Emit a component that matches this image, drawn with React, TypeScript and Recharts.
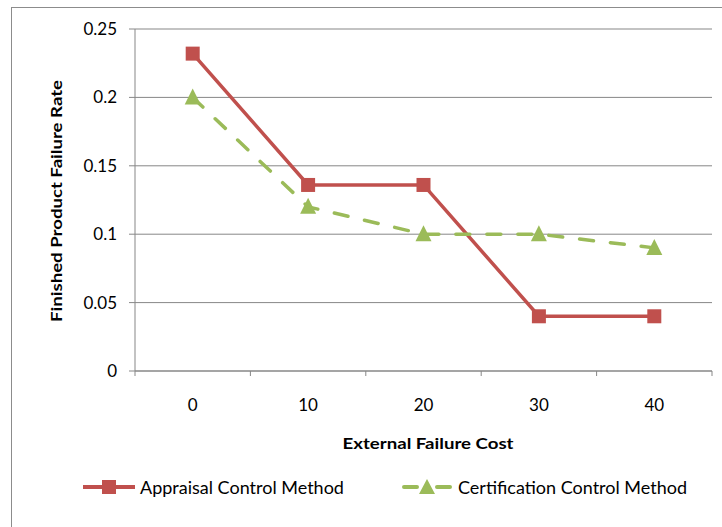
import React from 'react';
import { LineChart, Line, XAxis, YAxis, CartesianGrid } from 'recharts';

const costs = ['0', '10', '20', '30', '40'];
const appraisal = [0.232, 0.136, 0.136, 0.04, 0.04];
const certification = [0.2, 0.12, 0.1, 0.1, 0.09];
const yTicks = [0, 0.05, 0.1, 0.15, 0.2, 0.25];

const chartData = costs.map((c, i) => ({
  cost: c,
  appraisal: appraisal[i],
  certification: certification[i],
}));

const RED = '#C0504D';
const GREEN = '#9BBB59';
const GRID = '#878787';
const FONT = 'Lato, "Liberation Sans", sans-serif';

const PLOT_LEFT = 135;
const PLOT_RIGHT = 712;
const PLOT_BOTTOM = 371;
const BAND = (PLOT_RIGHT - PLOT_LEFT) / costs.length;

const SquareDot = (props: any) => {
  const { cx, cy, index } = props;
  if (cx == null || cy == null) return <g key={`s-${index}`} />;
  return <rect key={`s-${index}`} x={cx - 7} y={cy - 7} width={14} height={14} fill={RED} />;
};

const TriangleDot = (props: any) => {
  const { cx, cy, index } = props;
  if (cx == null || cy == null) return <g key={`t-${index}`} />;
  return (
    <polygon
      key={`t-${index}`}
      points={`${cx},${cy - 9} ${cx + 8},${cy + 7} ${cx - 8},${cy + 7}`}
      fill={GREEN}
    />
  );
};

const CategoryTick = (props: any) => {
  const { x, payload, index } = props;
  const left = x - BAND / 2;
  return (
    <g>
      <line x1={left} y1={PLOT_BOTTOM} x2={left} y2={PLOT_BOTTOM + 5} stroke={GRID} />
      {index === costs.length - 1 && (
        <line x1={left + BAND} y1={PLOT_BOTTOM} x2={left + BAND} y2={PLOT_BOTTOM + 5} stroke={GRID} />
      )}
      <text x={x} y={411} textAnchor="middle" fontSize={17} fontFamily={FONT} fill="#000">
        {payload.value}
      </text>
    </g>
  );
};

const LegendKey = ({ color, dashed, marker }: { color: string; dashed?: boolean; marker: 'square' | 'triangle' }) => (
  <svg width={56} height={16} style={{ display: 'block' }}>
    <line
      x1={dashed ? 5 : 2}
      y1={8}
      x2={dashed ? 51 : 54}
      y2={8}
      stroke={color}
      strokeWidth={4}
      strokeLinecap={dashed ? 'round' : 'butt'}
      strokeDasharray={dashed ? '13 20' : undefined}
    />
    {marker === 'square' ? (
      <rect x={21} y={1} width={14} height={14} fill={color} />
    ) : (
      <polygon points="28,0 36,15 20,15" fill={color} />
    )}
  </svg>
);

export default function App() {
  return (
    <div style={{ position: 'absolute', left: 0, top: 0, width: 722, height: 527, overflow: 'hidden', background: '#fff' }}>
      <div
        style={{
          position: 'absolute',
          left: 11,
          top: 7,
          width: 730,
          height: 540,
          border: '1px solid #8c8c8c',
          boxSizing: 'border-box',
        }}
      />
      <div style={{ position: 'absolute', left: 0, top: 0 }}>
        <LineChart width={722} height={527} data={chartData} margin={{ top: 29, right: 10, bottom: 96, left: 0 }}>
          <CartesianGrid horizontal vertical={false} stroke={GRID} strokeWidth={1} />
          <XAxis
            dataKey="cost"
            height={60}
            padding={{ left: BAND / 2, right: BAND / 2 }}
            axisLine={{ stroke: GRID }}
            tickLine={false}
            tick={<CategoryTick />}
            interval={0}
            label={{
              content: () => (
                <text
                  x={428}
                  y={449}
                  textAnchor="middle"
                  fontSize={15}
                  fontWeight="bold"
                  fontFamily={FONT}
                  fill="#000"
                  textLength={171}
                  lengthAdjust="spacingAndGlyphs"
                >
                  External Failure Cost
                </text>
              ),
            }}
          />
          <YAxis
            width={135}
            domain={[0, 0.25]}
            ticks={yTicks}
            axisLine={{ stroke: GRID }}
            tickLine={{ stroke: GRID }}
            tickSize={6}
            tickMargin={12}
            tick={{ fill: '#000', fontSize: 17, fontFamily: FONT }}
            label={{
              content: () => (
                <text
                  x={62}
                  y={201}
                  transform="rotate(-90 62 201)"
                  textAnchor="middle"
                  fontSize={15}
                  fontWeight="bold"
                  fontFamily={FONT}
                  fill="#000"
                  textLength={242}
                  lengthAdjust="spacingAndGlyphs"
                >
                  Finished Product Failure Rate
                </text>
              ),
            }}
          />
          <Line
            type="linear"
            dataKey="appraisal"
            stroke={RED}
            strokeWidth={3.5}
            dot={SquareDot}
            activeDot={false}
            isAnimationActive={false}
          />
          <Line
            type="linear"
            dataKey="certification"
            stroke={GREEN}
            strokeWidth={3.5}
            strokeLinecap="round"
            strokeDasharray="14 17"
            dot={TriangleDot}
            activeDot={false}
            isAnimationActive={false}
          />
        </LineChart>
      </div>
      <div
        style={{
          position: 'absolute',
          left: 81,
          top: 476,
          display: 'flex',
          alignItems: 'center',
          fontFamily: FONT,
          fontSize: 18,
          color: '#000',
        }}
      >
        <LegendKey color={RED} marker="square" />
        <span style={{ marginLeft: 3 }}>Appraisal Control Method</span>
      </div>
      <div
        style={{
          position: 'absolute',
          left: 399,
          top: 476,
          display: 'flex',
          alignItems: 'center',
          fontFamily: FONT,
          fontSize: 18,
          color: '#000',
        }}
      >
        <LegendKey color={GREEN} marker="triangle" dashed />
        <span style={{ marginLeft: 3 }}>Certification Control Method</span>
      </div>
    </div>
  );
}
